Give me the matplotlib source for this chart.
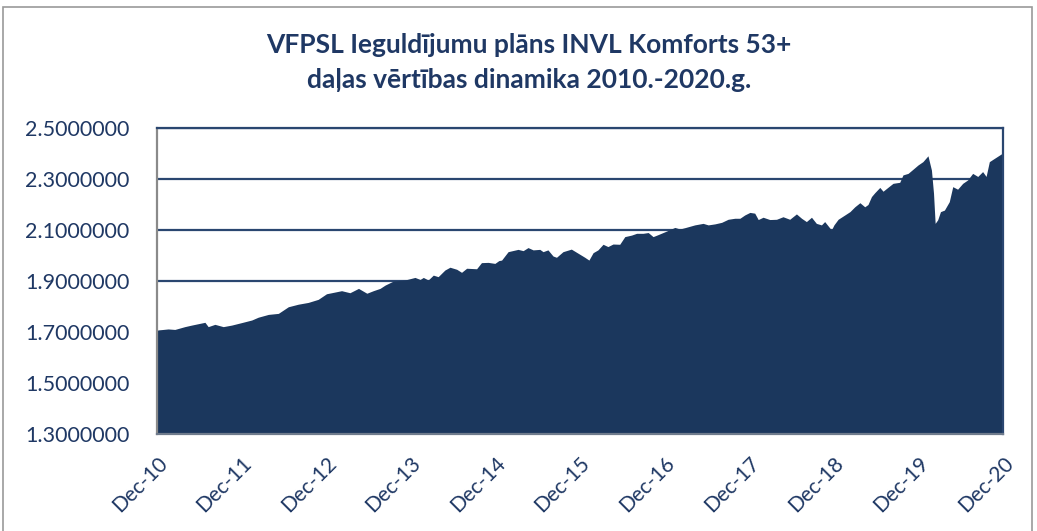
import matplotlib
matplotlib.use("Agg")
import matplotlib.pyplot as plt
import matplotlib.dates as mdates
from matplotlib.patches import Rectangle
from matplotlib.transforms import ScaledTranslation
import pandas as pd

# daļas vērtība (nolasīts no attēla)
datumi = [
    "2010-12-31", "2011-01-05", "2011-02-17", "2011-03-18", "2011-04-30", "2011-05-29",
    "2011-07-26", "2011-08-09", "2011-09-07", "2011-10-13", "2011-11-18", "2012-01-01",
    "2012-02-13", "2012-03-12", "2012-04-25", "2012-06-07", "2012-07-20", "2012-09-01",
    "2012-10-14", "2012-11-26", "2013-01-01", "2013-01-23", "2013-03-07", "2013-04-12",
    "2013-05-19", "2013-06-24", "2013-07-22", "2013-08-20", "2013-09-11", "2013-10-17",
    "2013-12-06", "2014-01-18", "2014-02-09", "2014-02-23", "2014-03-16", "2014-04-07",
    "2014-04-28", "2014-05-27", "2014-06-18", "2014-07-17", "2014-08-07", "2014-08-29",
    "2014-10-11", "2014-11-01", "2014-11-30", "2014-12-29", "2015-01-15", "2015-01-27",
    "2015-02-24", "2015-04-08", "2015-04-30", "2015-05-21", "2015-06-12", "2015-07-11",
    "2015-07-25", "2015-08-15", "2015-09-06", "2015-09-21", "2015-10-19", "2015-11-24",
    "2015-12-23", "2016-01-21", "2016-02-08", "2016-02-26", "2016-03-18", "2016-04-09",
    "2016-04-30", "2016-05-22", "2016-06-20", "2016-07-12", "2016-08-10", "2016-09-01",
    "2016-09-29", "2016-10-21", "2016-11-11", "2016-12-03", "2017-01-01", "2017-02-13",
    "2017-03-07", "2017-03-28", "2017-05-10", "2017-06-15", "2017-07-07", "2017-08-05",
    "2017-09-03", "2017-10-01", "2017-10-30", "2017-11-21", "2017-12-12", "2018-01-03",
    "2018-01-24", "2018-02-08", "2018-03-01", "2018-03-30", "2018-04-28", "2018-05-26",
    "2018-06-24", "2018-07-23", "2018-08-14", "2018-09-04", "2018-09-26", "2018-10-17",
    "2018-11-08", "2018-11-22", "2018-12-21", "2019-01-01", "2019-01-19", "2019-02-17",
    "2019-03-11", "2019-04-01", "2019-04-23", "2019-05-14", "2019-05-28", "2019-06-12",
    "2019-06-26", "2019-07-18", "2019-08-01", "2019-08-23", "2019-09-13", "2019-10-12",
    "2019-10-26", "2019-11-17", "2019-12-08", "2019-12-30", "2020-01-20", "2020-02-11",
    "2020-02-26", "2020-03-06", "2020-03-13", "2020-03-24", "2020-04-05", "2020-04-22",
    "2020-05-13", "2020-05-28", "2020-06-18", "2020-07-10", "2020-07-31", "2020-08-22",
    "2020-09-13", "2020-10-04", "2020-10-19", "2020-11-02", "2020-11-24", "2020-12-23",
    "2020-12-31",
]
vertibas = [
    1.706, 1.708, 1.712, 1.710, 1.721, 1.727,
    1.738, 1.721, 1.730, 1.721, 1.727, 1.737,
    1.747, 1.758, 1.769, 1.773, 1.799, 1.809,
    1.816, 1.828, 1.850, 1.854, 1.862, 1.854,
    1.871, 1.852, 1.862, 1.871, 1.884, 1.900,
    1.904, 1.914, 1.906, 1.914, 1.904, 1.923,
    1.917, 1.943, 1.954, 1.946, 1.934, 1.950,
    1.948, 1.972, 1.973, 1.969, 1.980, 1.982,
    2.015, 2.024, 2.019, 2.031, 2.022, 2.024,
    2.015, 2.022, 1.998, 1.993, 2.015, 2.025,
    2.009, 1.993, 1.982, 2.011, 2.022, 2.044,
    2.035, 2.045, 2.044, 2.074, 2.080, 2.087,
    2.087, 2.090, 2.074, 2.082, 2.093, 2.110,
    2.104, 2.109, 2.120, 2.126, 2.120, 2.124,
    2.130, 2.142, 2.146, 2.146, 2.159, 2.169,
    2.166, 2.141, 2.150, 2.141, 2.142, 2.152,
    2.142, 2.163, 2.146, 2.133, 2.150, 2.126,
    2.120, 2.133, 2.100, 2.120, 2.142, 2.159,
    2.172, 2.191, 2.207, 2.191, 2.200, 2.231,
    2.246, 2.267, 2.252, 2.268, 2.283, 2.287,
    2.316, 2.322, 2.338, 2.355, 2.368, 2.391,
    2.335, 2.244, 2.126, 2.140, 2.172, 2.178,
    2.211, 2.270, 2.260, 2.283, 2.296, 2.322,
    2.310, 2.329, 2.310, 2.368, 2.381, 2.398,
    2.402,
]
y_ticki = [1.3, 1.5, 1.7, 1.9, 2.1, 2.3, 2.5]
gadi = list(range(2010, 2021))

tumsi_zils = "#1b375d"
teksta_krasa = "#1f3864"
fonts = ["Lato", "DejaVu Sans"]

datumi = pd.to_datetime(datumi)

fig = plt.figure(figsize=(10.37, 5.31), dpi=100)
ax = fig.add_axes([157 / 1037, 97 / 531, 846 / 1037, 306 / 531])

ax.set_axisbelow(True)
ax.grid(axis="y", color="#2a4670", linewidth=1.6)
ax.fill_between(datumi, vertibas, y_ticki[0], color=tumsi_zils, linewidth=0, zorder=2)

ax.set_ylim(y_ticki[0], y_ticki[-1])
ax.set_yticks(y_ticki)
ax.set_yticklabels([f"{v:.7f}" for v in y_ticki], fontfamily=fonts, fontsize=15.5, color=teksta_krasa)

x_ticki = [pd.Timestamp(f"{g}-12-31") for g in gadi]
ax.set_xlim(x_ticki[0], x_ticki[-1])
ax.set_xticks(x_ticki)
ax.xaxis.set_major_formatter(mdates.DateFormatter("%b-%y"))
nobide = ScaledTranslation(4 / 100, 0, fig.dpi_scale_trans)
for t in ax.get_xticklabels():
    t.set_rotation(45)
    t.set_ha("right")
    t.set_rotation_mode("anchor")
    t.set_fontfamily(fonts)
    t.set_fontsize(15)
    t.set_color(teksta_krasa)
    t.set_transform(t.get_transform() + nobide)

ax.tick_params(axis="y", length=0, pad=20)
ax.tick_params(axis="x", length=0, pad=14)

ax.spines["left"].set_color("#8a8a8a")
ax.spines["left"].set_linewidth(1.6)
ax.spines["bottom"].set_color("#6f7b8c")
ax.spines["bottom"].set_linewidth(1.6)
ax.spines["top"].set_color("#2a4670")
ax.spines["top"].set_linewidth(1.6)
ax.spines["right"].set_color("#2a4670")
ax.spines["right"].set_linewidth(1.6)

fig.text(0.51, 0.915, "VFPSL Ieguldījumu plāns INVL Komforts 53+",
         ha="center", va="center", fontfamily=fonts, fontweight="bold",
         fontsize=19, color=teksta_krasa)
fig.text(0.51, 0.85, "daļas vērtības dinamika 2010.-2020.g.",
         ha="center", va="center", fontfamily=fonts, fontweight="bold",
         fontsize=19, color=teksta_krasa)

# rāmis ap diagrammu
fig.patches.append(Rectangle((3 / 1037, -0.05), 1029 / 1037, 1.05 - 7 / 531,
                             transform=fig.transFigure, fill=False,
                             edgecolor="#9a9a9a", linewidth=1.2))

fig.savefig("out.png", dpi=100)
